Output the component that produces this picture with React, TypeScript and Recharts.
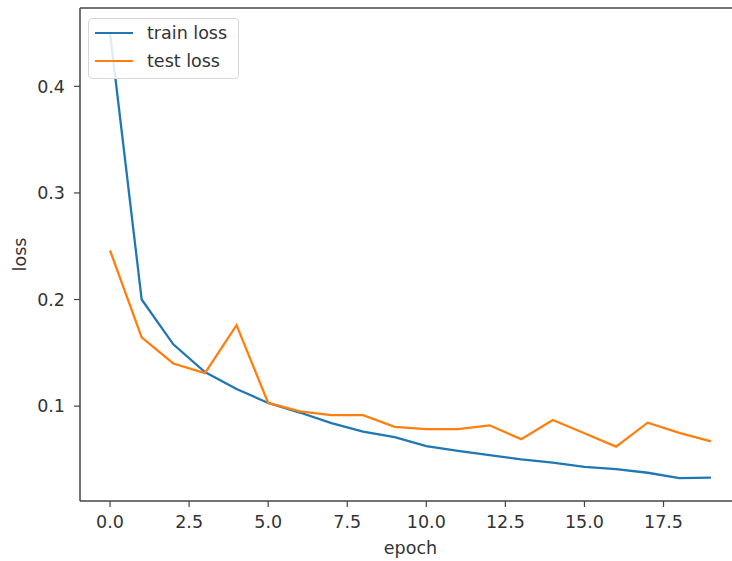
import { LineChart, Line, XAxis, YAxis, ReferenceLine } from "recharts";

const epochs = [0, 1, 2, 3, 4, 5, 6, 7, 8, 9, 10, 11, 12, 13, 14, 15, 16, 17, 18, 19];
const trainLoss = [
  0.45, 0.2, 0.158, 0.132, 0.116, 0.103, 0.094, 0.084, 0.076, 0.071,
  0.0625, 0.058, 0.054, 0.05, 0.047, 0.043, 0.041, 0.0375, 0.0325, 0.033,
];
const testLoss = [
  0.246, 0.1645, 0.14, 0.131, 0.176, 0.103, 0.095, 0.0915, 0.0915, 0.0805,
  0.0785, 0.0785, 0.082, 0.069, 0.087, 0.0745, 0.062, 0.0845, 0.075, 0.067,
];
const xTicks = [0, 2.5, 5, 7.5, 10, 12.5, 15, 17.5];
const yTicks = [0.1, 0.2, 0.3, 0.4];

const X_DOMAIN: [number, number] = [-0.95, 19.95];
const Y_DOMAIN: [number, number] = [0.011, 0.4735];

const data = epochs.map((e, i) => ({
  epoch: e,
  train: trainLoss[i],
  test: testLoss[i],
}));

const font = "'DejaVu Sans', sans-serif";
const fontSize = 17.5;
const textColor = "#333";
const spine = "#444";

const legendItems = [
  { label: "train loss", color: "#1f77b4" },
  { label: "test loss", color: "#ff7f0e" },
];

// drawn over the chart so it does not take space from the plot area
function LegendBox() {
  return (
    <div
      style={{
        position: "absolute",
        left: 88,
        top: 18,
        width: 151,
        height: 61,
        boxSizing: "border-box",
        border: "1px solid #d8d8d8",
        borderRadius: 4,
        background: "rgba(255,255,255,0.85)",
        fontFamily: font,
        fontSize,
        color: textColor,
        paddingTop: 0,
      }}
    >
      {legendItems.map((it) => (
        <div
          key={it.label}
          style={{ display: "flex", alignItems: "center", height: 28 }}
        >
          <span
            style={{
              display: "inline-block",
              width: 38,
              height: 2.3,
              background: it.color,
              marginLeft: 6,
              marginRight: 14,
            }}
          />
          {it.label}
        </div>
      ))}
    </div>
  );
}

export default function App() {
  return (
    <div
      style={{
        position: "fixed",
        left: 0,
        top: 0,
        width: 732,
        height: 561,
        overflow: "hidden",
        background: "#fff",
      }}
    >
      <LineChart
        width={741}
        height={561}
        data={data}
        margin={{ top: 8, right: 0, bottom: 0, left: 0 }}
      >
        <XAxis
          dataKey="epoch"
          type="number"
          domain={X_DOMAIN}
          ticks={xTicks}
          allowDataOverflow
          height={60}
          tickFormatter={(v: number) => v.toFixed(1)}
          tick={{ fill: textColor, fontSize, fontFamily: font }}
          tickSize={6}
          tickMargin={9}
          axisLine={{ stroke: spine, strokeWidth: 1.5 }}
          tickLine={{ stroke: spine, strokeWidth: 1.2 }}
          label={{
            content: ({ viewBox }: any) => (
              <text
                x={viewBox.x + viewBox.width / 2}
                y={viewBox.y + 53}
                textAnchor="middle"
                fill={textColor}
                fontSize={fontSize}
                fontFamily={font}
              >
                epoch
              </text>
            ),
          }}
        />
        <YAxis
          type="number"
          domain={Y_DOMAIN}
          ticks={yTicks}
          allowDataOverflow
          width={80}
          tickFormatter={(v: number) => v.toFixed(1)}
          tick={{ fill: textColor, fontSize, fontFamily: font }}
          tickSize={6}
          tickMargin={9}
          axisLine={{ stroke: spine, strokeWidth: 1.5 }}
          tickLine={{ stroke: spine, strokeWidth: 1.2 }}
          label={{
            content: ({ viewBox }: any) => {
              const cx = 26;
              const cy = viewBox.y + viewBox.height / 2;
              return (
                <text
                  x={cx}
                  y={cy}
                  textAnchor="middle"
                  fill={textColor}
                  fontSize={fontSize}
                  fontFamily={font}
                  transform={`rotate(-90 ${cx} ${cy})`}
                >
                  loss
                </text>
              );
            },
          }}
        />
        <ReferenceLine y={Y_DOMAIN[1]} stroke={spine} strokeWidth={1.5} />
        <Line
          dataKey="train"
          name="train loss"
          stroke="#1f77b4"
          strokeWidth={2.3}
          dot={false}
          isAnimationActive={false}
        />
        <Line
          dataKey="test"
          name="test loss"
          stroke="#ff7f0e"
          strokeWidth={2.3}
          dot={false}
          isAnimationActive={false}
        />
      </LineChart>
      <LegendBox />
    </div>
  );
}
